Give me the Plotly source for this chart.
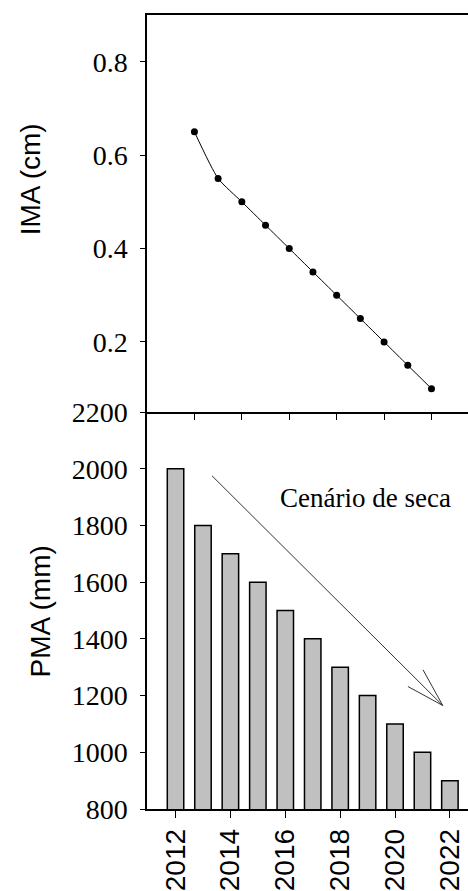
import plotly.graph_objects as go

years = list(range(2012, 2023))
ima_cm = [0.65, 0.55, 0.50, 0.45, 0.40, 0.35, 0.30, 0.25, 0.20, 0.15, 0.10]
pma_mm = [2000, 1800, 1700, 1600, 1500, 1400, 1300, 1200, 1100, 1000, 900]
year_ticks = years[::2]
ima_ticks = [0.2, 0.4, 0.6, 0.8]
pma_ticks = list(range(800, 2201, 200))

SERIF = "Liberation Serif"
SANS = "Liberation Sans"
PAD = "<span style='color:white'>.</span>"

fig = go.Figure()
fig.add_trace(go.Scatter(
    x=years, y=ima_cm, mode="lines+markers",
    line=dict(color="black", width=1, shape="spline", smoothing=0.6),
    marker=dict(color="black", size=7),
    xaxis="x", yaxis="y", showlegend=False,
))
fig.add_trace(go.Bar(
    x=years, y=pma_mm, width=0.6,
    marker=dict(color="#c0c0c0", line=dict(color="black", width=1.5)),
    xaxis="x2", yaxis="y2", showlegend=False,
))

axis_common = dict(showline=True, linecolor="black", linewidth=1.5,
                   ticks="outside", tickcolor="black", tickwidth=1.2,
                   showgrid=False, zeroline=False)

fig.update_layout(
    width=468, height=891,
    margin=dict(l=147, r=0, t=11, b=82),
    paper_bgcolor="white", plot_bgcolor="white",
    xaxis=dict(domain=[0, 1], anchor="y", range=[2010, 2023.54],
               tickvals=year_ticks, showticklabels=False, ticklen=6,
               mirror=True, **axis_common),
    yaxis=dict(domain=[0.5, 1], anchor="x", range=[0.05, 0.9],
               tickvals=ima_ticks, ticktext=[f"{v:.1f}{PAD}" for v in ima_ticks],
               ticklen=5,
               tickfont=dict(family=SERIF, size=28, color="black"),
               **axis_common),
    xaxis2=dict(domain=[0, 1], anchor="y2", range=[2010.96, 2022.66],
                tickvals=year_ticks, tickangle=-90, ticklen=7,
                tickfont=dict(family=SANS, size=28, color="black"),
                **axis_common),
    yaxis2=dict(domain=[0, 0.5], anchor="x2", range=[800, 2200],
                tickvals=pma_ticks, ticktext=[f"{v}{PAD}" for v in pma_ticks],
                ticklen=5,
                tickfont=dict(family=SERIF, size=28, color="black"),
                **axis_common),
    annotations=[
        dict(text="IMA (cm)", xref="paper", yref="paper", x=-0.3645, y=0.793,
             xanchor="center", yanchor="middle", textangle=-90, showarrow=False,
             font=dict(family=SANS, size=28, color="black")),
        dict(text="PMA (mm)", xref="paper", yref="paper", x=-0.333, y=0.249,
             xanchor="center", yanchor="middle", textangle=-90, showarrow=False,
             font=dict(family=SANS, size=28, color="black")),
        dict(text="Cenário de seca", xref="x2", yref="y2", x=2018.94, y=1897,
             xanchor="center", yanchor="middle", showarrow=False,
             font=dict(family=SERIF, size=27, color="black")),
    ],
    shapes=[
        dict(type="line", xref="x2", yref="y2", x0=2013.33, y0=1975, x1=2021.74, y1=1165,
             line=dict(color="#333333", width=1)),
        dict(type="line", xref="x2", yref="y2", x0=2021.02, y0=1291, x1=2021.74, y1=1165,
             line=dict(color="#333333", width=1)),
        dict(type="line", xref="x2", yref="y2", x0=2020.47, y0=1232, x1=2021.74, y1=1165,
             line=dict(color="#333333", width=1)),
    ],
)

fig.write_html("out.html")
